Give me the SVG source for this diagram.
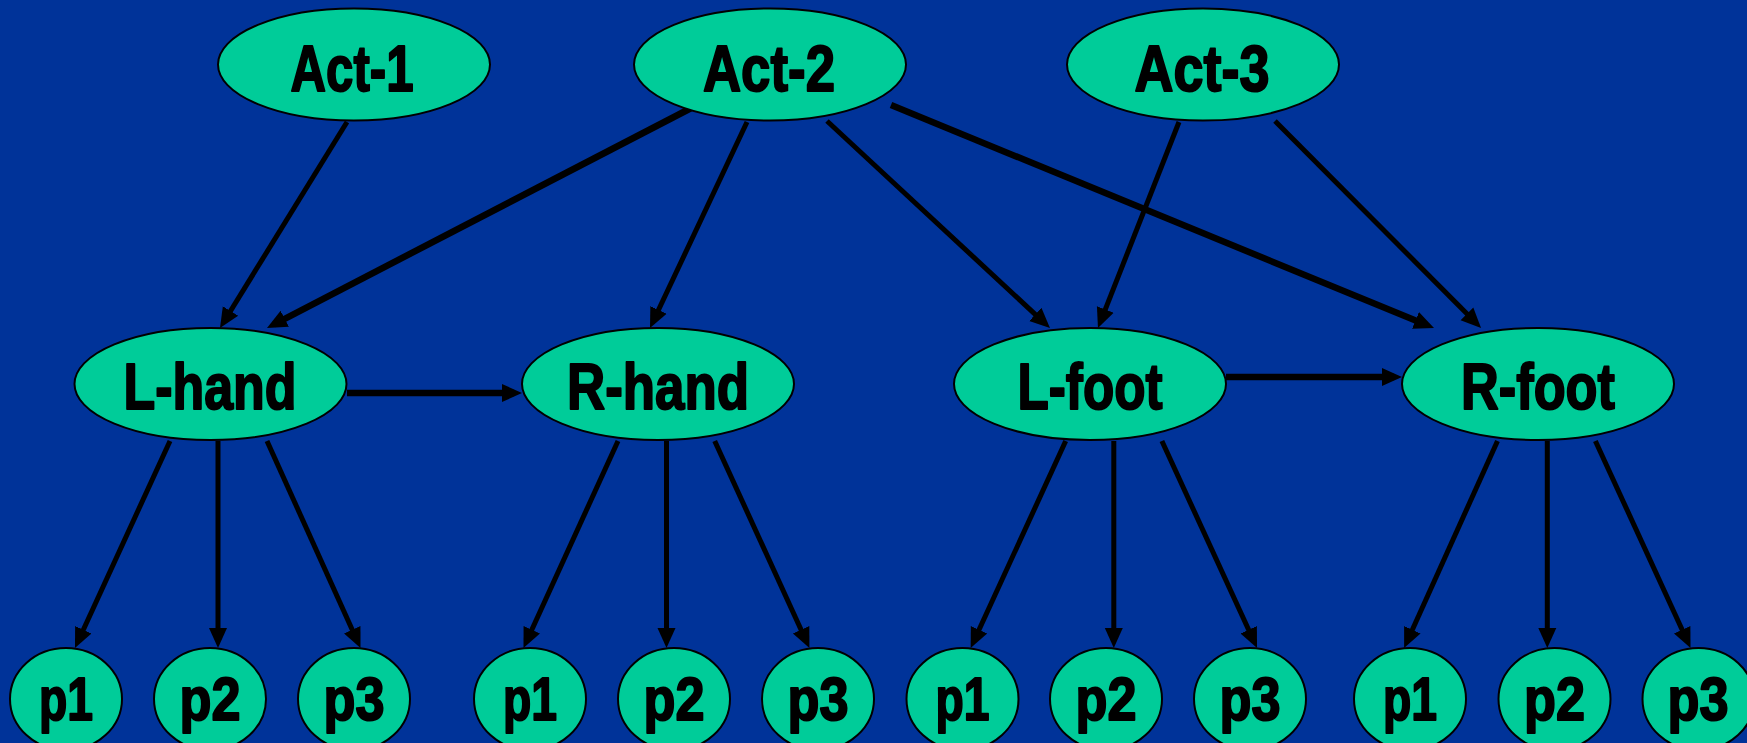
<svg xmlns="http://www.w3.org/2000/svg" width="1747" height="743" viewBox="0 0 1747 743">
<style>
.bg{fill:#003399}
.n ellipse{fill:#00CC99;stroke:#000;stroke-width:2}
.n text{font-family:"Liberation Sans Narrow","Liberation Sans",Arial,sans-serif;font-weight:bold;fill:#000;stroke:#000;stroke-width:2;stroke-linejoin:round;text-anchor:middle}
.big{font-size:65px}
.sm{font-size:61px}
.e{stroke:#000;stroke-width:5;fill:none;marker-end:url(#ah)}
.t{stroke-width:6.5}
</style>
<defs>
<marker id="ah" markerUnits="userSpaceOnUse" markerWidth="22" markerHeight="20" viewBox="0 -10 22 20" refX="12" refY="0" orient="auto">
<path d="M0,-9 L20,0 L0,9 Z" fill="#000"/>
</marker>
</defs>
<rect class="bg" x="0" y="0" width="1747" height="743"/>
<g id="connectors">
<path class="e" d="M347,122 L224.2,321.2"/>
<path class="e t" d="M699,104 L274.1,324.3"/>
<path class="e" d="M747,122 L653.4,320.8"/>
<path class="e" d="M827,121 L1044.1,322.6"/>
<path class="e t" d="M891,105 L1426.6,325"/>
<path class="e" d="M1179,122 L1100.9,320.6"/>
<path class="e" d="M1275,121 L1475.4,322.3"/>
<path class="e t" d="M347,393 L514,393"/>
<path class="e t" d="M1226,377 L1394,377"/>
<path class="e" d="M170,441 L78.3,640.7"/>
<path class="e" d="M218,441 L218,640"/>
<path class="e" d="M267,441 L357.2,640.7"/>
<path class="e" d="M618,441 L526.8,640.7"/>
<path class="e" d="M666.5,441 L666.5,640"/>
<path class="e" d="M714.7,441 L806.1,640.7"/>
<path class="e" d="M1065.7,441 L974,640.7"/>
<path class="e" d="M1113.8,441 L1113.8,640"/>
<path class="e" d="M1161.9,441 L1253.7,640.7"/>
<path class="e" d="M1497.5,441 L1407.4,640.7"/>
<path class="e" d="M1547.3,441 L1547.3,640"/>
<path class="e" d="M1595.4,441 L1687.2,640.7"/>
</g>
<g id="act1" class="n"><ellipse cx="354" cy="64.5" rx="136" ry="56"/><text class="big" x="352" y="91" textLength="123" lengthAdjust="spacingAndGlyphs">Act-1</text></g>
<g id="act2" class="n"><ellipse cx="770" cy="64.5" rx="136" ry="56"/><text class="big" x="769" y="91" textLength="132" lengthAdjust="spacingAndGlyphs">Act-2</text></g>
<g id="act3" class="n"><ellipse cx="1203" cy="64.5" rx="136" ry="56"/><text class="big" x="1202" y="91" textLength="135" lengthAdjust="spacingAndGlyphs">Act-3</text></g>
<g id="lhand" class="n"><ellipse cx="210.5" cy="384" rx="136" ry="56"/><text class="big" x="210" y="409" textLength="173" lengthAdjust="spacingAndGlyphs">L-hand</text></g>
<g id="rhand" class="n"><ellipse cx="658" cy="384" rx="136" ry="56"/><text class="big" x="658" y="409" textLength="182" lengthAdjust="spacingAndGlyphs">R-hand</text></g>
<g id="lfoot" class="n"><ellipse cx="1090" cy="384" rx="136" ry="56"/><text class="big" x="1090" y="409" textLength="145" lengthAdjust="spacingAndGlyphs">L-foot</text></g>
<g id="rfoot" class="n"><ellipse cx="1538" cy="384" rx="136" ry="56"/><text class="big" x="1538" y="409" textLength="154" lengthAdjust="spacingAndGlyphs">R-foot</text></g>
<g id="lh-p1" class="n"><ellipse cx="66" cy="699" rx="56" ry="51"/><text class="sm" x="66" y="720" textLength="54" lengthAdjust="spacingAndGlyphs">p1</text></g>
<g id="lh-p2" class="n"><ellipse cx="210" cy="699" rx="56" ry="51"/><text class="sm" x="210" y="720" textLength="61" lengthAdjust="spacingAndGlyphs">p2</text></g>
<g id="lh-p3" class="n"><ellipse cx="354" cy="699" rx="56" ry="51"/><text class="sm" x="354" y="720" textLength="61" lengthAdjust="spacingAndGlyphs">p3</text></g>
<g id="rh-p1" class="n"><ellipse cx="530" cy="699" rx="56" ry="51"/><text class="sm" x="530" y="720" textLength="54" lengthAdjust="spacingAndGlyphs">p1</text></g>
<g id="rh-p2" class="n"><ellipse cx="674" cy="699" rx="56" ry="51"/><text class="sm" x="674" y="720" textLength="61" lengthAdjust="spacingAndGlyphs">p2</text></g>
<g id="rh-p3" class="n"><ellipse cx="818" cy="699" rx="56" ry="51"/><text class="sm" x="818" y="720" textLength="61" lengthAdjust="spacingAndGlyphs">p3</text></g>
<g id="lf-p1" class="n"><ellipse cx="962.5" cy="699" rx="56" ry="51"/><text class="sm" x="962.5" y="720" textLength="54" lengthAdjust="spacingAndGlyphs">p1</text></g>
<g id="lf-p2" class="n"><ellipse cx="1106" cy="699" rx="56" ry="51"/><text class="sm" x="1106" y="720" textLength="61" lengthAdjust="spacingAndGlyphs">p2</text></g>
<g id="lf-p3" class="n"><ellipse cx="1250" cy="699" rx="56" ry="51"/><text class="sm" x="1250" y="720" textLength="61" lengthAdjust="spacingAndGlyphs">p3</text></g>
<g id="rf-p1" class="n"><ellipse cx="1410" cy="699" rx="56" ry="51"/><text class="sm" x="1410" y="720" textLength="54" lengthAdjust="spacingAndGlyphs">p1</text></g>
<g id="rf-p2" class="n"><ellipse cx="1554.5" cy="699" rx="56" ry="51"/><text class="sm" x="1554.5" y="720" textLength="61" lengthAdjust="spacingAndGlyphs">p2</text></g>
<g id="rf-p3" class="n"><ellipse cx="1698.5" cy="699" rx="56" ry="51"/><text class="sm" x="1698" y="720" textLength="61" lengthAdjust="spacingAndGlyphs">p3</text></g>
</svg>
